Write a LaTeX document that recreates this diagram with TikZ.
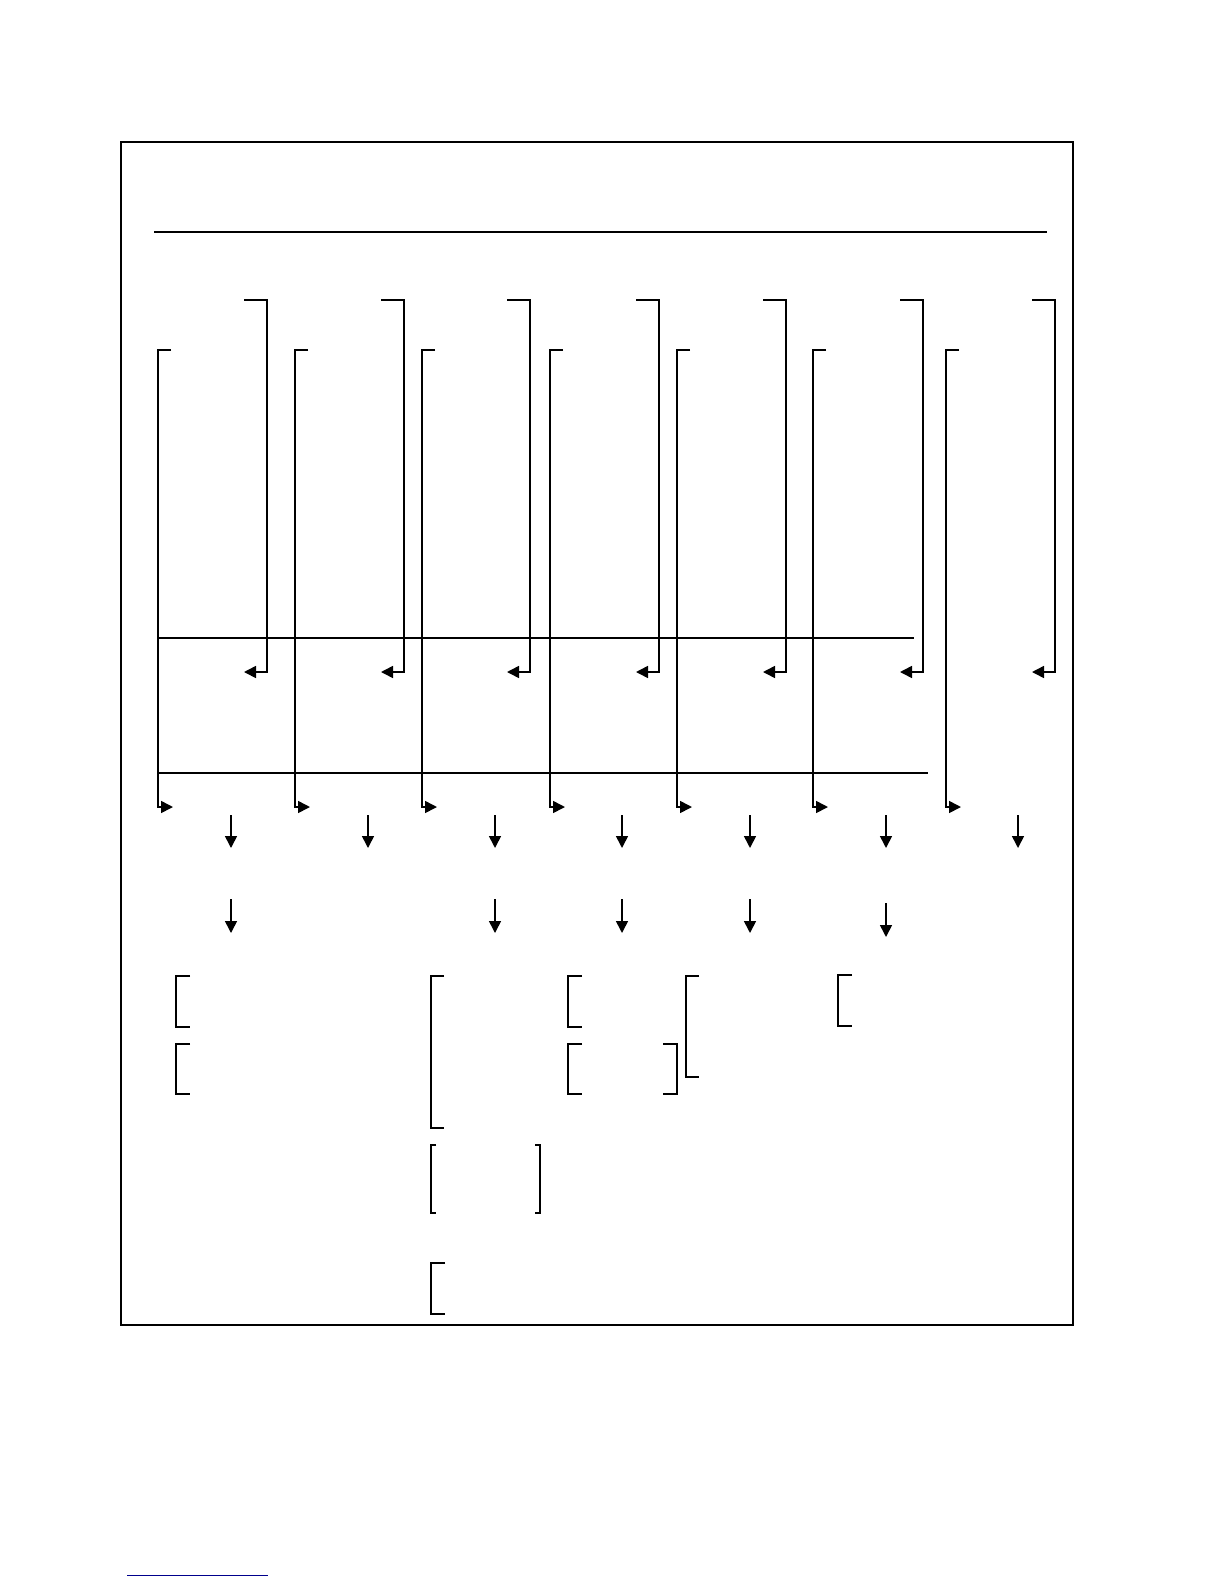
\documentclass[tikz,border=0pt]{standalone}
\usetikzlibrary{arrows.meta}
\begin{document}
\begin{tikzpicture}[x=0.5pt,y=-0.5pt,line width=0.8pt,
  tip/.style={-{Triangle[length=6pt,width=6pt]}}]
\useasboundingbox (0,0) rectangle (1224,1584);
\draw (121,142) rectangle (1073,1325);
\draw (154,232) -- (1047,232);
% bus lines
\coordinate (busA) at (158,638);
\coordinate (busAend) at (914,638);
\coordinate (busB) at (158,773);
\coordinate (busBend) at (928,773);
\draw (busA) -- (busAend);
\draw (busB) -- (busBend);
% loops, one per column
\foreach \r/\l [count=\i] in {267/158,404/295,530/422,659/550,786/677,923/813,1055/946}{
  \coordinate (top\i) at (\r-23,300);
  \coordinate (rt\i) at (\r,300);
  \coordinate (back\i) at (\r-23,672);
  \coordinate (lt\i) at (\l+13,350);
  \coordinate (ll\i) at (\l,350);
  \coordinate (fwd\i) at (\l+15,807);
  \draw[tip] (top\i) -- (rt\i) |- (back\i);
  \draw[tip] (lt\i) -- (ll\i) |- (fwd\i);
}
% down arrows
\foreach \x [count=\i] in {231,368,495,622,750,886,1018}{
  \coordinate (d\i) at (\x,815);
  \coordinate (e\i) at (\x,848);
  \draw[tip] (d\i) -- (e\i);
}
\foreach \x/\a/\b [count=\i] in {231/899/933,495/899/933,622/899/933,750/899/933,886/903/937}{
  \coordinate (f\i) at (\x,\a);
  \coordinate (g\i) at (\x,\b);
  \draw[tip] (f\i) -- (g\i);
}
% brackets
\foreach \x/\a/\b/\w in {176/976/1027/14,176/1044/1094/14,431/976/1128/13,431/1145/1213/5,431/1263/1314/14,568/976/1027/14,568/1044/1094/14,686/976/1077/13,838/975/1026/14}
  \draw (\x+\w,\a) -- (\x,\a) -- (\x,\b) -- (\x+\w,\b);
\foreach \x/\a/\b/\w in {540/1145/1213/5,677/1044/1094/14}
  \draw (\x-\w,\a) -- (\x,\a) -- (\x,\b) -- (\x-\w,\b);
\draw[blue!55!black,line width=0.5pt] (127,1575) -- (268,1575);
\end{tikzpicture}
\end{document}
